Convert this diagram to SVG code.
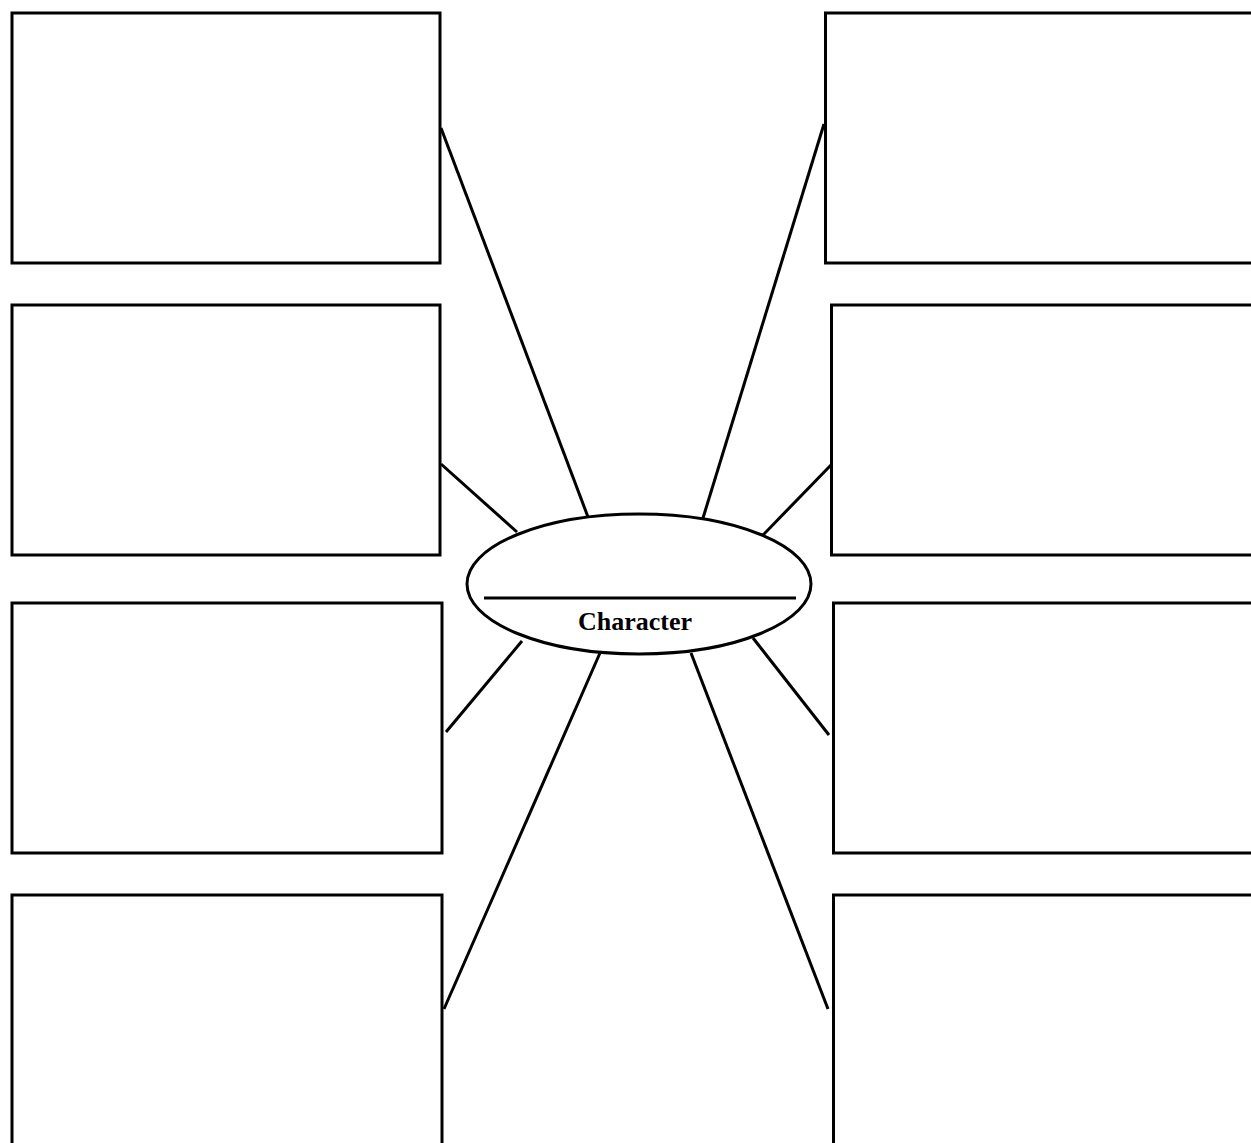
<svg xmlns="http://www.w3.org/2000/svg" width="1251" height="1143" viewBox="0 0 1251 1143">
<style>
.box{fill:#fff;stroke:#000;stroke-width:3}
.ln{stroke:#000;stroke-width:3;fill:none}
.lbl{font-family:"Liberation Serif",serif;font-weight:bold;font-size:26px;fill:#000}
</style>
<rect width="1251" height="1143" fill="#fff"/>
<g id="connectors">
<line class="ln" x1="441" y1="128" x2="588" y2="517"/>
<line class="ln" x1="441" y1="464" x2="517" y2="532"/>
<line class="ln" x1="446" y1="732" x2="522" y2="641"/>
<line class="ln" x1="444" y1="1009" x2="600" y2="653"/>
<line class="ln" x1="824" y1="124" x2="703" y2="518"/>
<line class="ln" x1="831" y1="465" x2="763" y2="535"/>
<line class="ln" x1="829" y1="735" x2="753" y2="638"/>
<line class="ln" x1="828" y1="1009" x2="691" y2="653"/>
</g>
<g id="box-l1"><rect class="box" x="12" y="13" width="428" height="250"/></g>
<g id="box-l2"><rect class="box" x="12" y="305" width="428" height="250"/></g>
<g id="box-l3"><rect class="box" x="12" y="603" width="430" height="250"/></g>
<g id="box-l4"><rect class="box" x="12" y="895" width="430" height="260"/></g>
<g id="box-r1"><rect class="box" x="825.5" y="13" width="440" height="250"/></g>
<g id="box-r2"><rect class="box" x="831.5" y="305" width="440" height="250"/></g>
<g id="box-r3"><rect class="box" x="833.5" y="603" width="440" height="250"/></g>
<g id="box-r4"><rect class="box" x="833.5" y="895" width="440" height="260"/></g>
<g id="center">
<ellipse class="box" cx="639" cy="584" rx="172" ry="70"/>
<line class="ln" x1="484" y1="598" x2="796" y2="598"/>
<text class="lbl" x="635" y="630" text-anchor="middle">Character</text>
</g>
</svg>
